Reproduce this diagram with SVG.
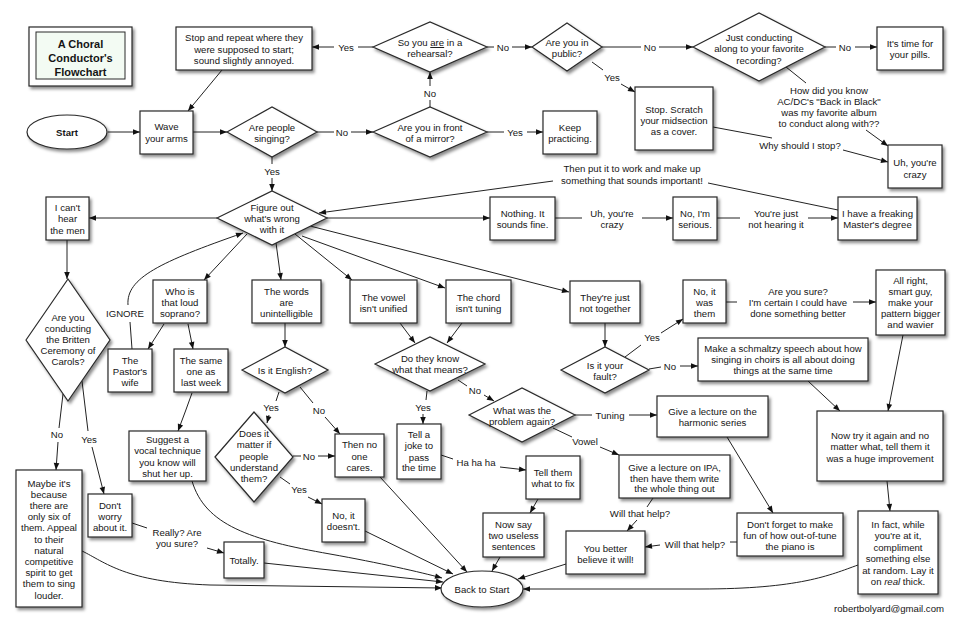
<svg xmlns="http://www.w3.org/2000/svg" width="960" height="626" viewBox="0 0 960 626">
<style>
.n{fill:#fff;stroke:#2a2a2a;stroke-width:1.2;filter:url(#sh)}
.t{font-family:"Liberation Sans",Arial,sans-serif;font-size:9.6px;fill:#151515;text-anchor:middle}
.b{font-weight:bold}
.c path{fill:none;stroke:#222;stroke-width:1}
.c path.a{marker-end:url(#ar)}
</style>
<defs>
<filter id="sh" x="-20%" y="-20%" width="150%" height="150%"><feDropShadow dx="2" dy="2.5" stdDeviation="1.6" flood-color="#000" flood-opacity="0.45"/></filter>
<marker id="ar" viewBox="0 0 10 10" refX="10" refY="5" markerWidth="8" markerHeight="7" orient="auto" markerUnits="userSpaceOnUse"><path d="M0,1 L10,5 L0,9 z" fill="#111"/></marker>
</defs>
<rect width="960" height="626" fill="#fff"/>

<g class="c" id="connectors">
<path class="a" d="M108,132 L140,132"/>
<path class="a" d="M193,132 L227,132"/>
<path d="M272,157 L272,164"/><path class="a" d="M272,178 L272,191"/>
<path d="M317,132 L334,132"/><path class="a" d="M351,132 L373,132"/>
<path d="M487,132 L504,132"/><path class="a" d="M527,132 L543,132"/>
<path d="M430,107 L430,100"/><path class="a" d="M430,86 L430,72"/>
<path d="M373,47 L358,47"/><path class="a" d="M334,47 L312,47"/>
<path d="M487,47 L494,47"/><path class="a" d="M512,47 L532,47"/>
<path d="M602,47 L641,47"/><path class="a" d="M659,47 L693,47"/>
<path d="M825,47 L836,47"/><path class="a" d="M855,47 L877,47"/>
<path d="M592,62 L603,70"/><path class="a" d="M621,84 L635,92"/>
<path class="a" d="M222,70 L188,111"/>
<path d="M786,67 L806,83"/><path class="a" d="M866,130 L888,146"/>
<path d="M713,127 L772,138"/><path class="a" d="M843,150 L888,162"/>
<path d="M838,210 L708,183"/><path class="a" d="M553,181 L319,213"/>
<path class="a" d="M217,218 L89,218"/>
<path class="a" d="M67,240 L67,279"/>
<path d="M63,394 L59,428"/><path class="a" d="M58,442 L56,470"/>
<path d="M82,381 L88,431"/><path class="a" d="M92,447 L104,494"/>
<path d="M132,523 L147,528"/><path class="a" d="M207,548 L224,553"/>
<path class="a" d="M247,234 L204,280"/>
<path d="M132,349 L130,322"/><path class="a" d="M128,305 C126,278 160,262 243,233"/>
<path class="a" d="M276,243 L281,280"/>
<path class="a" d="M295,234 L352,280"/>
<path class="a" d="M302,236 L445,288"/>
<path class="a" d="M310,226 L569,292"/>
<path class="a" d="M327,218 L490,218"/>
<path class="a" d="M164,324 L148,349"/>
<path class="a" d="M188,324 L193,349"/>
<path class="a" d="M192,393 Q186,410 178,431"/>
<path class="a" d="M192,481 C205,525 250,540 330,554 C380,563 420,572 442,578"/>
<path class="a" d="M82,551 C105,562 125,582 210,585 L442,588"/>
<path class="a" d="M264,563 L443,582"/>
<path d="M279,392 L276,401"/><path class="a" d="M269,415 L267,423"/>
<path d="M300,387 L313,403"/><path class="a" d="M325,417 L340,434"/>
<path class="a" d="M285,323 L285,347"/>
<path d="M293,456 L301,456"/><path class="a" d="M318,456 L335,456"/>
<path d="M280,477 L290,484"/><path class="a" d="M308,497 L322,504"/>
<path class="a" d="M380,477 L467,572"/>
<path class="a" d="M365,531 L453,574"/>
<path class="a" d="M400,323 L415,343"/>
<path class="a" d="M462,323 L447,343"/>
<path d="M427,391 L426,400"/><path class="a" d="M423,414 L423,424"/>
<path d="M458,380 L467,386"/><path class="a" d="M484,395 L494,401"/>
<path d="M441,455 L453,459"/><path class="a" d="M500,467 L526,470"/>
<path class="a" d="M538,499 L530,513"/>
<path class="a" d="M500,557 L492,571"/>
<path d="M575,415 L592,415"/><path class="a" d="M629,415 L657,415"/>
<path d="M553,428 L572,437"/><path class="a" d="M600,447 L619,455"/>
<path d="M653,498 L647,507"/><path class="a" d="M637,520 L627,531"/>
<path class="a" d="M566,564 L518,579"/>
<path class="a" d="M727,437 L773,513"/>
<path d="M737,542 L730,542"/><path class="a" d="M660,545 L645,547"/>
<path class="a" d="M605,323 L605,347"/>
<path d="M625,357 L641,345"/><path class="a" d="M661,333 L683,319"/>
<path d="M649,369 L661,367"/><path class="a" d="M680,366 L698,366"/>
<path d="M726,302 L737,302"/><path class="a" d="M853,302 L876,302"/>
<path class="a" d="M808,381 L840,411"/>
<path class="a" d="M903,335 L888,411"/>
<path class="a" d="M887,481 L890,511"/>
<path class="a" d="M858,565 C830,575 800,589 700,589 L523,589"/>
<path d="M555,218 L582,218"/><path class="a" d="M642,218 L673,218"/>
<path d="M717,218 L740,218"/><path class="a" d="M808,218 L838,218"/>
</g>

<g id="edge-labels" class="t">
<text x="272" y="174.5">Yes</text>
<text x="342" y="135.5">No</text>
<text x="515" y="135.5">Yes</text>
<text x="430" y="96.5">No</text>
<text x="346" y="50.5">Yes</text>
<text x="503" y="50.5">No</text>
<text x="650" y="50.5">No</text>
<text x="845" y="50.5">No</text>
<text x="612" y="80.5">Yes</text>
<text x="829"><tspan x="829" y="93.5">How did you know</tspan><tspan x="829" y="104.5">AC/DC's "Back in Black"</tspan><tspan x="829" y="115.5">was my favorite album</tspan><tspan x="829" y="126.5">to conduct along with??</tspan></text>
<text x="800" y="148.5">Why should I stop?</text>
<text x="632"><tspan x="632" y="172">Then put it to work and make up</tspan><tspan x="632" y="183.5">something that sounds important!</tspan></text>
<text x="612"><tspan x="612" y="216.5">Uh, you're</tspan><tspan x="612" y="228">crazy</tspan></text>
<text x="776"><tspan x="776" y="216.5">You're just</tspan><tspan x="776" y="228">not hearing it</tspan></text>
<text x="125" y="316.5">IGNORE</text>
<text x="57" y="437.5">No</text>
<text x="89" y="442.5">Yes</text>
<text x="177"><tspan x="177" y="535.5">Really? Are</tspan><tspan x="177" y="546.5">you sure?</tspan></text>
<text x="271" y="410.5">Yes</text>
<text x="319" y="413.5">No</text>
<text x="309" y="459.5">No</text>
<text x="299" y="492.5">Yes</text>
<text x="423" y="410.5">Yes</text>
<text x="475" y="393.5">No</text>
<text x="610" y="418.5">Tuning</text>
<text x="585" y="444.5">Vowel</text>
<text x="476" y="465.5">Ha ha ha</text>
<text x="640" y="516.5">Will that help?</text>
<text x="695" y="547.5">Will that help?</text>
<text x="652" y="340.5">Yes</text>
<text x="670" y="369.5">No</text>
<text x="798"><tspan x="798" y="294.5">Are you sure?</tspan><tspan x="798" y="305.5">I'm certain I could have</tspan><tspan x="798" y="316.5">done something better</tspan></text>
<text x="944" y="611.5" style="text-anchor:end">robertbolyard@gmail.com</text>
</g>

<g id="title"><rect class="n" x="29" y="27" width="103" height="59"/><rect x="36" y="32" width="89" height="47" fill="#f3fbf3" stroke="#2a2a2a" stroke-width="1"/>
<text class="t b" style="font-size:11px"><tspan x="80.5" y="48">A Choral</tspan><tspan x="80.5" y="62">Conductor's</tspan><tspan x="80.5" y="75.5">Flowchart</tspan></text></g>

<g id="start"><ellipse class="n" cx="67" cy="132" rx="40" ry="17"/><text class="t b" x="67" y="135.5">Start</text></g>
<g id="wave"><rect class="n" x="140" y="111" width="53" height="43"/><text class="t"><tspan x="166.5" y="130">Wave</tspan><tspan x="166.5" y="142">your arms</tspan></text></g>
<g id="stoprepeat"><rect class="n" x="176" y="27" width="136" height="43"/><text class="t"><tspan x="244" y="41">Stop and repeat where they</tspan><tspan x="244" y="52.5">were supposed to start;</tspan><tspan x="244" y="64">sound slightly annoyed.</tspan></text></g>
<g id="singing"><polygon class="n" points="227,132 272,107 317,132 272,157"/><text class="t"><tspan x="272" y="130.5">Are people</tspan><tspan x="272" y="142">singing?</tspan></text></g>
<g id="mirror"><polygon class="n" points="373,132 430,107 487,132 430,157"/><text class="t"><tspan x="430" y="130.5">Are you in front</tspan><tspan x="430" y="142">of a mirror?</tspan></text></g>
<g id="keep"><rect class="n" x="543" y="111" width="54" height="43"/><text class="t"><tspan x="570" y="130.5">Keep</tspan><tspan x="570" y="142">practicing.</tspan></text></g>
<g id="rehearsal"><polygon class="n" points="373,47 430,22 487,47 430,72"/><text class="t"><tspan x="430" y="46">So you <tspan text-decoration="underline">are</tspan> in a</tspan><tspan x="430" y="57">rehearsal?</tspan></text></g>
<g id="public"><polygon class="n" points="532,47 567,23 602,47 567,71"/><text class="t"><tspan x="567" y="46">Are you in</tspan><tspan x="567" y="57">public?</tspan></text></g>
<g id="recording"><polygon class="n" points="693,47 759,13 825,47 759,81"/><text class="t"><tspan x="759" y="40.5">Just conducting</tspan><tspan x="759" y="52">along to your favorite</tspan><tspan x="759" y="63.5">recording?</tspan></text></g>
<g id="pills"><rect class="n" x="877" y="27" width="66" height="43"/><text class="t"><tspan x="910" y="46.5">It's time for</tspan><tspan x="910" y="58">your pills.</tspan></text></g>
<g id="scratch"><rect class="n" x="635" y="87" width="78" height="63"/><text class="t"><tspan x="674" y="112.5">Stop. Scratch</tspan><tspan x="674" y="123.5">your midsection</tspan><tspan x="674" y="134.5">as a cover.</tspan></text></g>
<g id="crazy"><rect class="n" x="888" y="145" width="54" height="43"/><text class="t"><tspan x="915" y="165.5">Uh, you're</tspan><tspan x="915" y="177.5">crazy</tspan></text></g>
<g id="figure"><polygon class="n" points="217,218 272,191 327,218 272,245"/><text class="t"><tspan x="272" y="210.5">Figure out</tspan><tspan x="272" y="222">what's wrong</tspan><tspan x="272" y="233">with it</tspan></text></g>
<g id="canthear"><rect class="n" x="46" y="197" width="43" height="43"/><text class="t"><tspan x="67.5" y="210.5">I can't</tspan><tspan x="67.5" y="222">hear</tspan><tspan x="67.5" y="233.5">the men</tspan></text></g>
<g id="britten"><polygon class="n" points="26,340 68,279 110,340 68,401"/><text class="t"><tspan x="68" y="320.5">Are you</tspan><tspan x="68" y="331.5">conducting</tspan><tspan x="68" y="342.5">the Britten</tspan><tspan x="68" y="353.5">Ceremony of</tspan><tspan x="68" y="365">Carols?</tspan></text></g>
<g id="maybe"><rect class="n" x="16" y="470" width="66" height="137"/><text class="t"><tspan x="49" y="486.5">Maybe it's</tspan><tspan x="49" y="497.7">because</tspan><tspan x="49" y="508.9">there are</tspan><tspan x="49" y="520.1">only six of</tspan><tspan x="49" y="531.3">them. Appeal</tspan><tspan x="49" y="542.5">to their</tspan><tspan x="49" y="553.7">natural</tspan><tspan x="49" y="564.9">competitive</tspan><tspan x="49" y="576.1">spirit to get</tspan><tspan x="49" y="587.3">them to sing</tspan><tspan x="49" y="598.5">louder.</tspan></text></g>
<g id="dontworry"><rect class="n" x="88" y="494" width="44" height="43"/><text class="t"><tspan x="110" y="508.5">Don't</tspan><tspan x="110" y="519.5">worry</tspan><tspan x="110" y="530.5">about it.</tspan></text></g>
<g id="totally"><rect class="n" x="224" y="542" width="40" height="36"/><text class="t" x="244" y="563.5">Totally.</text></g>
<g id="backtostart"><ellipse class="n" cx="482" cy="589" rx="41" ry="18"/><text class="t" x="482" y="592.5">Back to Start</text></g>
<g id="soprano"><rect class="n" x="153" y="280" width="54" height="43"/><text class="t"><tspan x="180" y="294.5">Who is</tspan><tspan x="180" y="305.5">that loud</tspan><tspan x="180" y="316.5">soprano?</tspan></text></g>
<g id="pastor"><rect class="n" x="108" y="349" width="44" height="43"/><text class="t"><tspan x="130" y="363.5">The</tspan><tspan x="130" y="374.5">Pastor's</tspan><tspan x="130" y="385.5">wife</tspan></text></g>
<g id="sameone"><rect class="n" x="174" y="349" width="54" height="43"/><text class="t"><tspan x="201" y="363.5">The same</tspan><tspan x="201" y="374.5">one as</tspan><tspan x="201" y="385.5">last week</tspan></text></g>
<g id="suggest"><rect class="n" x="129" y="431" width="77" height="50"/><text class="t"><tspan x="167.5" y="442.5">Suggest a</tspan><tspan x="167.5" y="454">vocal technique</tspan><tspan x="167.5" y="465.5">you know will</tspan><tspan x="167.5" y="476.5">shut her up.</tspan></text></g>
<g id="words"><rect class="n" x="252" y="280" width="69" height="43"/><text class="t"><tspan x="286.5" y="294.5">The words</tspan><tspan x="286.5" y="305.5">are</tspan><tspan x="286.5" y="316.5">unintelligible</tspan></text></g>
<g id="english"><polygon class="n" points="242,370 285,347 328,370 285,393"/><text class="t" x="285" y="374">Is it English?</text></g>
<g id="matter"><polygon class="n" points="215,457 254,412 293,457 254,502"/><text class="t"><tspan x="254" y="436.5">Does it</tspan><tspan x="254" y="448">matter if</tspan><tspan x="254" y="459.5">people</tspan><tspan x="254" y="470.5">understand</tspan><tspan x="254" y="481.5">them?</tspan></text></g>
<g id="noonecares"><rect class="n" x="335" y="434" width="49" height="43"/><text class="t"><tspan x="359.5" y="447.5">Then no</tspan><tspan x="359.5" y="459.5">one</tspan><tspan x="359.5" y="470.5">cares.</tspan></text></g>
<g id="doesnt"><rect class="n" x="322" y="499" width="43" height="43"/><text class="t"><tspan x="343.5" y="518.5">No, it</tspan><tspan x="343.5" y="529.5">doesn't.</tspan></text></g>
<g id="vowel"><rect class="n" x="350" y="280" width="67" height="43"/><text class="t"><tspan x="383.5" y="300.5">The vowel</tspan><tspan x="383.5" y="311.5">isn't unified</tspan></text></g>
<g id="chord"><rect class="n" x="446" y="280" width="65" height="43"/><text class="t"><tspan x="478.5" y="300.5">The chord</tspan><tspan x="478.5" y="311.5">isn't tuning</tspan></text></g>
<g id="doknow"><polygon class="n" points="375,364 430,337 485,364 430,391"/><text class="t"><tspan x="430" y="362">Do they know</tspan><tspan x="430" y="373">what that means?</tspan></text></g>
<g id="joke"><rect class="n" x="397" y="424" width="44" height="55"/><text class="t"><tspan x="419" y="437.5">Tell a</tspan><tspan x="419" y="449">joke to</tspan><tspan x="419" y="460.5">pass</tspan><tspan x="419" y="471">the time</tspan></text></g>
<g id="tellfix"><rect class="n" x="526" y="456" width="54" height="43"/><text class="t"><tspan x="553" y="475.5">Tell them</tspan><tspan x="553" y="487">what to fix</tspan></text></g>
<g id="nowsay"><rect class="n" x="483" y="513" width="61" height="44"/><text class="t"><tspan x="513.5" y="527.5">Now say</tspan><tspan x="513.5" y="538.5">two useless</tspan><tspan x="513.5" y="549.5">sentences</tspan></text></g>
<g id="problem"><polygon class="n" points="469,415 522,388 575,415 522,442"/><text class="t"><tspan x="522" y="413.5">What was the</tspan><tspan x="522" y="425">problem again?</tspan></text></g>
<g id="harmonic"><rect class="n" x="657" y="396" width="111" height="41"/><text class="t"><tspan x="712.5" y="414.5">Give a lecture on the</tspan><tspan x="712.5" y="425.5">harmonic series</tspan></text></g>
<g id="ipa"><rect class="n" x="619" y="455" width="111" height="43"/><text class="t"><tspan x="674.5" y="470.5">Give a lecture on IPA,</tspan><tspan x="674.5" y="481.5">then have them write</tspan><tspan x="674.5" y="492">the whole thing out</tspan></text></g>
<g id="better"><rect class="n" x="566" y="531" width="79" height="43"/><text class="t"><tspan x="605.5" y="551.5">You better</tspan><tspan x="605.5" y="562.5">believe it will!</tspan></text></g>
<g id="dontforget"><rect class="n" x="737" y="513" width="106" height="43"/><text class="t"><tspan x="790" y="527.5">Don't forget to make</tspan><tspan x="790" y="538.5">fun of how out-of-tune</tspan><tspan x="790" y="549.5">the piano is</tspan></text></g>
<g id="together"><rect class="n" x="570" y="281" width="70" height="42"/><text class="t"><tspan x="605" y="300.5">They're just</tspan><tspan x="605" y="311.5">not together</tspan></text></g>
<g id="fault"><polygon class="n" points="561,370 605,347 649,370 605,393"/><text class="t"><tspan x="605" y="368.5">Is it your</tspan><tspan x="605" y="379.5">fault?</tspan></text></g>
<g id="wasthem"><rect class="n" x="683" y="280" width="43" height="43"/><text class="t"><tspan x="704.5" y="294.5">No, it</tspan><tspan x="704.5" y="305.5">was</tspan><tspan x="704.5" y="316.5">them</tspan></text></g>
<g id="allright"><rect class="n" x="876" y="270" width="69" height="65"/><text class="t"><tspan x="910.5" y="283.5">All right,</tspan><tspan x="910.5" y="294.5">smart guy,</tspan><tspan x="910.5" y="305.5">make your</tspan><tspan x="910.5" y="316.5">pattern bigger</tspan><tspan x="910.5" y="327.5">and wavier</tspan></text></g>
<g id="schmaltzy"><rect class="n" x="698" y="338" width="170" height="43"/><text class="t"><tspan x="783" y="351.5">Make a schmaltzy speech about how</tspan><tspan x="783" y="362.5">singing in choirs is all about doing</tspan><tspan x="783" y="373.5">things at the same time</tspan></text></g>
<g id="nowtry"><rect class="n" x="817" y="411" width="126" height="70"/><text class="t"><tspan x="880" y="438.5">Now try it again and no</tspan><tspan x="880" y="450">matter what, tell them it</tspan><tspan x="880" y="461.5">was a huge improvement</tspan></text></g>
<g id="infact"><rect class="n" x="858" y="511" width="80" height="83"/><text class="t"><tspan x="898" y="527.5">In fact, while</tspan><tspan x="898" y="539">you're at it,</tspan><tspan x="898" y="550.5">compliment</tspan><tspan x="898" y="562">something else</tspan><tspan x="898" y="573.5">at random. Lay it</tspan><tspan x="898" y="584.5">on <tspan font-style="italic">real</tspan> thick.</tspan></text></g>
<g id="nothing"><rect class="n" x="490" y="197" width="65" height="43"/><text class="t"><tspan x="522.5" y="216.5">Nothing. It</tspan><tspan x="522.5" y="228">sounds fine.</tspan></text></g>
<g id="serious"><rect class="n" x="673" y="197" width="44" height="43"/><text class="t"><tspan x="695" y="216.5">No, I'm</tspan><tspan x="695" y="228">serious.</tspan></text></g>
<g id="masters"><rect class="n" x="838" y="197" width="79" height="43"/><text class="t"><tspan x="877.5" y="216.5">I have a freaking</tspan><tspan x="877.5" y="228">Master's degree</tspan></text></g>
</svg>
